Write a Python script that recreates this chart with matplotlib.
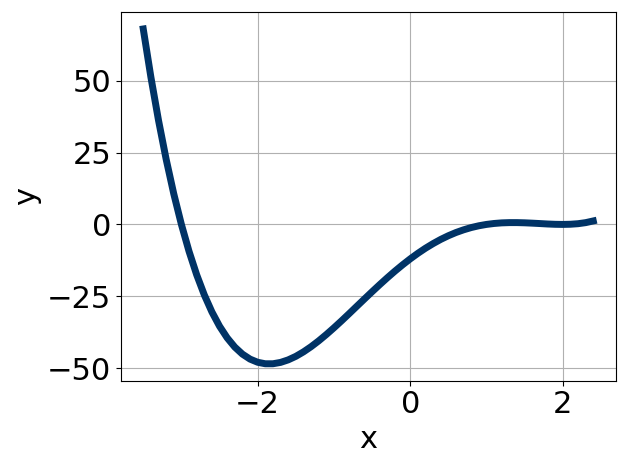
import matplotlib

matplotlib.use("Agg")
import matplotlib.pyplot as plt

# curve values
x_vals = [-3.5, -3.4, -3.3, -3.2, -3.1, -3.0, -2.9, -2.8, -2.7, -2.6,
          -2.5, -2.4, -2.3, -2.2, -2.1, -2.0, -1.9, -1.8, -1.7, -1.6,
          -1.5, -1.4, -1.3, -1.2, -1.1, -1.0, -0.9, -0.8, -0.7, -0.6,
          -0.5, -0.4, -0.3, -0.2, -0.1, 0.0, 0.1, 0.2, 0.3, 0.4,
          0.5, 0.6, 0.7, 0.8, 0.9, 1.0, 1.1, 1.2, 1.3, 1.4,
          1.5, 1.6, 1.7, 1.8, 1.9, 2.0, 2.1, 2.2, 2.3, 2.4]
y_vals = [68.06, 51.32, 36.24, 22.71, 10.66, 0.0, -9.36, -17.51, -24.52, -30.47,
          -35.44, -39.49, -42.71, -45.16, -46.90, -48.0, -48.52, -48.52, -48.05, -47.17,
          -45.94, -44.39, -42.58, -40.55, -38.34, -36.0, -33.56, -31.05, -28.50, -25.96,
          -23.44, -20.97, -18.57, -16.26, -14.07, -12.0, -10.07, -8.29, -6.68, -5.22,
          -3.94, -2.82, -1.88, -1.09, -0.47, 0.0, 0.33, 0.54, 0.63, 0.63,
          0.56, 0.44, 0.30, 0.15, 0.04, 0.0, 0.06, 0.25, 0.62, 1.21]

plt.rcParams.update({"font.size": 22})

fig, ax = plt.subplots(figsize=(6.28, 4.66), dpi=100)
ax.plot(x_vals, y_vals, color="#003366", lw=5)
ax.grid(True)
ax.set_xlabel("x")
ax.set_ylabel("y")
ax.set_xticks([-2, 0, 2])
ax.set_yticks([-50, -25, 0, 25, 50])
fig.tight_layout(pad=0.4)
fig.savefig("out.png")
